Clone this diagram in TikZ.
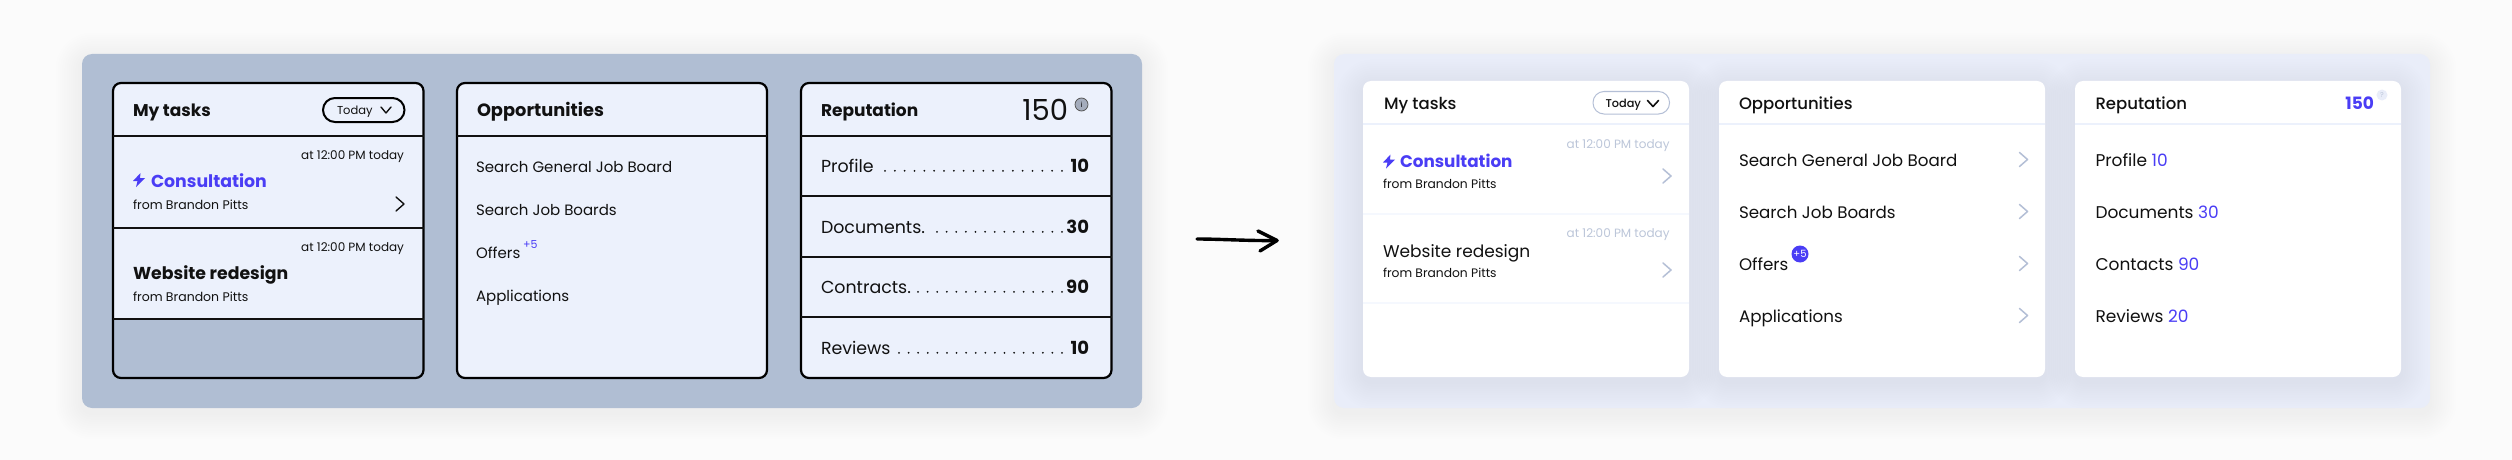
\documentclass[tikz,border=0pt]{standalone}
\usepackage{fontspec}
\setmainfont{Poppins}
\newfontfamily\medfont{Poppins}[UprightFont=* Medium]
\usetikzlibrary{arrows.meta}
\definecolor{pagebg}{HTML}{FBFBFB}
\definecolor{slate}{HTML}{B0BED3}
\definecolor{cardblue}{HTML}{ECF1FC}
\definecolor{softblue}{HTML}{E9EDF9}
\definecolor{linkblue}{HTML}{4A3DF5}
\definecolor{ink}{HTML}{111111}
\definecolor{mutedtext}{HTML}{BCC6D9}
\definecolor{chevron}{HTML}{B4BFD6}
\newcommand{\softshadow}[6]{%
  \foreach \s in {1,...,12}{%
    \fill[#5,opacity=#6,rounded corners={(10+\s*2.2)*1pt}]
      ({#1-\s*2.2},{#2-\s*2.2+5}) rectangle ({#3+\s*2.2},{#4+\s*2.2+5});}}
\newcommand{\fs}[1]{\fontsize{#1}{#1}\selectfont}
\tikzset{
  x=1pt,y=-1pt,
  panelbox/.style={rounded corners=10pt},
  oldcard/.style={draw=black,line width=2.2pt,fill=cardblue,rounded corners=8pt},
  newcard/.style={fill=white,rounded corners=8pt},
  oldrule/.style={draw=ink,line width=2pt},
  newrule/.style={draw=cardblue,line width=1.6pt},
  txt/.style={inner sep=0pt,outer sep=0pt,anchor=base west,text=ink},
  txtr/.style={inner sep=0pt,outer sep=0pt,anchor=base east,text=ink},
  chevold/.style={draw=ink,line width=1.4pt,line cap=round,line join=round},
  chevnew/.style={draw=chevron,line width=1.5pt,line cap=round,line join=round},
}
\newcommand{\chev}[3]{\draw[#3] ({#1-4},{#2-7}) -- ({#1+4},{#2}) -- ({#1-4},{#2+7});}
\newcommand{\bolt}[3]{\fill[#3] ({#1+7.5},{#2-7}) -- ({#1+0},{#2+1}) -- ({#1+4.5},{#2+1}) -- ({#1+3},{#2+7}) -- ({#1+12},{#2-2}) -- ({#1+7},{#2-2}) -- cycle;}
\begin{document}
\begin{tikzpicture}
\useasboundingbox (0,0) rectangle (2512,460);
\fill[pagebg] (0,0) rectangle (2512,460);
% panels
\softshadow{82}{54}{1142}{408}{black}{0.004}
\fill[slate,panelbox] (82,54) rectangle (1142,408);
\softshadow{1334}{54}{2430}{408}{black}{0.004}
\fill[softblue,panelbox] (1334,54) rectangle (2430,408);
% ---- old: my tasks
\begin{scope}
\path[clip,rounded corners=8pt] (113,83) rectangle (423.5,378);
\fill[cardblue] (113,83) rectangle (423.5,319);
\end{scope}
\draw[oldcard,fill=none] (113,83) rectangle (423.5,378);
\coordinate (a1l) at (113,136); \coordinate (a1r) at (423.5,136);
\coordinate (a2l) at (113,228); \coordinate (a2r) at (423.5,228);
\coordinate (a3l) at (113,319); \coordinate (a3r) at (423.5,319);
\draw[oldrule] (a1l)--(a1r) (a2l)--(a2r) (a3l)--(a3r);
\node[txt,font=\fs{17}\bfseries] (mt) at (133,116) {My tasks};
\draw[draw=black,line width=2pt,rounded corners=12pt] (323,98) rectangle (404.5,122);
\node[txt,font=\fs{11.5}] (td) at (337,114) {Today};
\draw[chevold] (381,107) -- (386,113) -- (391,107);
\node[txtr,font=\fs{12}] (t1) at (404,159) {at 12:00 PM today};
\bolt{133}{180}{linkblue}
\node[txt,font=\fs{17.3}\bfseries,text=linkblue] (c1) at (151,187) {Consultation};
\node[txt,font=\fs{12.5}] (f1) at (133,209) {from Brandon Pitts};
\chev{400}{204}{chevold}
\node[txtr,font=\fs{12}] (t2) at (404,251) {at 12:00 PM today};
\node[txt,font=\fs{17.3}\bfseries] (w1) at (133,279) {Website redesign};
\node[txt,font=\fs{12.5}] (f2) at (133,301) {from Brandon Pitts};
% ---- old: opportunities
\draw[oldcard] (457,83) rectangle (767,378);
\coordinate (b1l) at (457,136); \coordinate (b1r) at (767,136);
\draw[oldrule] (b1l)--(b1r);
\node[txt,font=\fs{17.8}\bfseries] (op) at (477,116) {Opportunities};
\node[txt,font=\fs{15}] (o1) at (476,172) {Search General Job Board};
\node[txt,font=\fs{15}] (o2) at (476,215) {Search Job Boards};
\node[txt,font=\fs{15}] (o3) at (476,258) {Offers};
\node[txt,font=\fs{11},text=linkblue] (o3b) at (523,248) {+5};
\node[txt,font=\fs{15}] (o4) at (476,301) {Applications};
% ---- old: reputation
\draw[oldcard] (801,83) rectangle (1111.5,378);
\coordinate (c1l) at (801,136); \coordinate (c1r) at (1111.5,136);
\coordinate (c2l) at (801,196); \coordinate (c2r) at (1111.5,196);
\coordinate (c3l) at (801,257); \coordinate (c3r) at (1111.5,257);
\coordinate (c4l) at (801,317); \coordinate (c4r) at (1111.5,317);
\draw[oldrule,line width=1.6pt] (c1l)--(c1r) (c2l)--(c2r) (c3l)--(c3r) (c4l)--(c4r);
\node[txt,font=\fs{17}\bfseries] (rp) at (821,116) {Reputation};
\node[txtr,font=\fs{29}] (rv) at (1068,120) {150};
\node[circle,draw=ink!70,fill=chevron!70!gray,line width=.8pt,minimum size=13pt,inner sep=0pt,font=\fs{7}] (ri) at (1081.5,104.5) {i};
\node[txt,font=\fs{17.4}] (r1) at (821,172) {Profile};
\node[txt,font=\fs{17.4}] (r2) at (821,233) {Documents.};
\node[txt,font=\fs{17.4}] (r3) at (821,293) {Contracts.};
\node[txt,font=\fs{17.4}] (r4) at (821,354) {Reviews};
\node[txtr,font=\fs{18}\bfseries] (v1) at (1089,172) {10};
\node[txtr,font=\fs{18}\bfseries] (v2) at (1089,233) {30};
\node[txtr,font=\fs{18}\bfseries] (v3) at (1089,293) {90};
\node[txtr,font=\fs{18}\bfseries] (v4) at (1089,354) {10};
\foreach \yy/\st/\cnt in {172/885/19, 233/937/14, 293/918/16, 354/899/18}{
  \foreach \k in {1,...,\cnt}{
    \fill[ink] ({\st+(\k-1)*(1062-\st)/(\cnt-1)},{\yy-1.2}) circle (1pt);
  }
}
% arrow
\coordinate (ars) at (1197,239);
\coordinate (are) at (1277,240.5);
\draw[black,line width=3.4pt,line cap=round] (ars) .. controls (1220,239) and (1250,241) .. (are);
\draw[black,line width=3.4pt,line cap=round,line join=round] (1258,231) -- (are) -- (1260,251);
% ---- new cards
\softshadow{1363}{81}{1689}{377}{slate}{0.012}
\softshadow{1719}{81}{2045}{377}{slate}{0.012}
\softshadow{2075}{81}{2401}{377}{slate}{0.012}
\fill[newcard] (1363,81) rectangle (1689,377);
\fill[newcard] (1719,81) rectangle (2045,377);
\fill[newcard] (2075,81) rectangle (2401,377);
\coordinate (d1l) at (1363,124); \coordinate (d1r) at (1689,124);
\coordinate (d2l) at (1363,214); \coordinate (d2r) at (1689,214);
\coordinate (d3l) at (1363,303); \coordinate (d3r) at (1689,303);
\coordinate (e1l) at (1719,124); \coordinate (e1r) at (2045,124);
\coordinate (g1l) at (2075,124); \coordinate (g1r) at (2401,124);
\draw[newrule] (d1l)--(d1r) (e1l)--(e1r) (g1l)--(g1r);
\draw[newrule,draw=cardblue!50] (d2l)--(d2r) (d3l)--(d3r);
% new tasks
\node[txt,font=\medfont\fs{16.5}] (nmt) at (1384,109) {My tasks};
\draw[draw=chevron,fill=white,line width=1pt,rounded corners=11pt] (1593,91.5) rectangle (1669.5,114);
\node[txt,font=\medfont\fs{11.3}] (ntd) at (1605.5,107.5) {Today};
\draw[draw=ink,line width=1.6pt,line cap=round,line join=round] (1647.5,100.5) -- (1653,106.5) -- (1658.5,100.5);
\node[txtr,font=\fs{12},text=mutedtext] (nt1) at (1669.5,148) {at 12:00 PM today};
\bolt{1383}{161.5}{linkblue}
\node[txt,font=\fs{16.8}\bfseries,text=linkblue] (nc1) at (1400,167) {Consultation};
\node[txt,font=\fs{12.3}] (nf1) at (1383,188) {from Brandon Pitts};
\chev{1667}{176}{chevnew}
\node[txtr,font=\fs{12},text=mutedtext] (nt2) at (1669.5,237) {at 12:00 PM today};
\node[txt,font=\fs{17}] (nw1) at (1383,257) {Website redesign};
\node[txt,font=\fs{12.3}] (nf2) at (1383,277) {from Brandon Pitts};
\chev{1667}{270}{chevnew}
% new opps
\node[txt,font=\medfont\fs{16.5}] (nop) at (1739,109) {Opportunities};
\node[txt,font=\fs{16.7}] (no1) at (1739,166) {Search General Job Board};
\node[txt,font=\fs{16.7}] (no2) at (1739,218) {Search Job Boards};
\node[txt,font=\fs{16.7}] (no3) at (1739,270) {Offers};
\node[circle,fill=linkblue,minimum size=17pt,inner sep=0pt,text=white,font=\fs{10}] (no3b) at (1800,254) {+5};
\node[txt,font=\fs{16.7}] (no4) at (1739,322) {Applications};
\chev{2023.5}{159.5}{chevnew}
\chev{2023.5}{211.5}{chevnew}
\chev{2023.5}{263.5}{chevnew}
\chev{2023.5}{315.5}{chevnew}
% new reputation
\node[txt,font=\medfont\fs{16.5}] (nrp) at (2095.5,109) {Reputation};
\node[txtr,font=\fs{17}\bfseries,text=linkblue] (nrv) at (2374,110) {150};
\node[circle,fill=softblue,minimum size=11pt,inner sep=0pt,text=mutedtext,font=\fs{7}] (nri) at (2382,95) {?};
\node[txt,font=\fs{17}] (nr1) at (2095.5,166) {Profile \textcolor{linkblue}{10}};
\node[txt,font=\fs{17}] (nr2) at (2095.5,218) {Documents \textcolor{linkblue}{30}};
\node[txt,font=\fs{17}] (nr3) at (2095.5,270) {Contacts \textcolor{linkblue}{90}};
\node[txt,font=\fs{17}] (nr4) at (2095.5,322) {Reviews \textcolor{linkblue}{20}};
\end{tikzpicture}
\end{document}
